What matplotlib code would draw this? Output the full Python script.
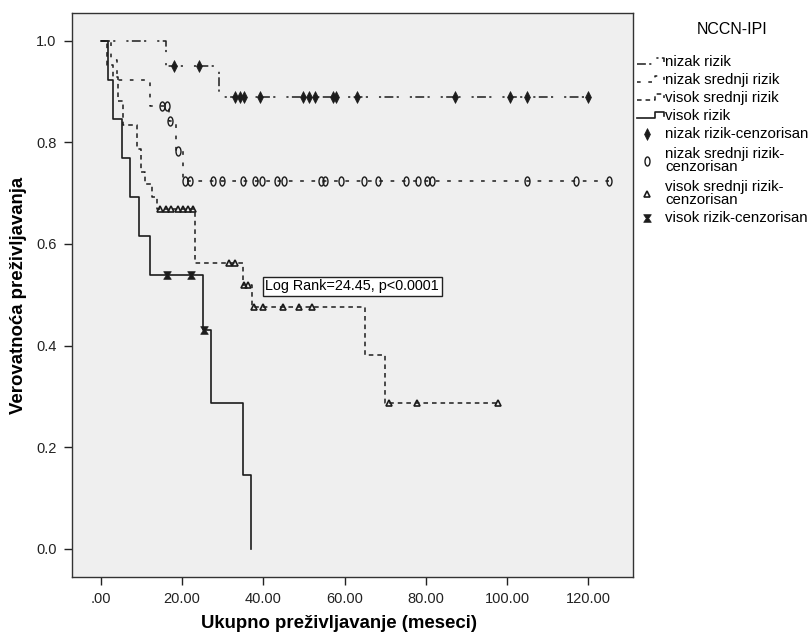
import numpy as np
import matplotlib
matplotlib.use('Agg')
import matplotlib.pyplot as plt
from matplotlib.lines import Line2D
from matplotlib.path import Path
from matplotlib.transforms import Affine2D

plt.rcParams['font.family'] = ['Liberation Sans', 'DejaVu Sans']

# nizak rizik
t_nizak = [0, 16, 29]
s_nizak = [1.0, 0.95, 0.89]
end_nizak = 120
c_nizak = [18, 24.2, 33, 34.2, 35.3, 39.3, 49.8, 51.2, 52.6, 57.2, 58, 63, 87.2,
           100.7, 104.9, 119.8]

# nizak srednji rizik
t_nsr = [0, 2.5, 4, 12, 16.8, 18.5, 20.2]
s_nsr = [1.0, 0.962, 0.923, 0.872, 0.843, 0.784, 0.724]
end_nsr = 125.2
c_nsr = [15, 16.4, 17.1, 19.1, 20.8, 22, 27.7, 29.8, 35.1, 38, 39.7, 43.4, 45,
         54.1, 55.3, 59.2, 64.9, 68.2, 75.1, 78, 80.3, 81.5, 105, 117, 125.2]

# visok srednji rizik
t_vsr = [0, 1.5, 3, 4.2, 5.5, 8.8, 10, 10.9, 12.7, 13.9, 23.2, 35, 37.2, 65, 70]
s_vsr = [1.0, 0.952, 0.929, 0.881, 0.835, 0.787, 0.741, 0.718, 0.692, 0.669,
         0.563, 0.52, 0.476, 0.381, 0.286]
end_vsr = 97.8
c_vsr = [14.6, 16, 17.3, 19, 20.2, 21.5, 22.7, 31.5, 33, 35.3, 36.3, 37.6, 39.9,
         44.8, 48.9, 52, 70.9, 77.9, 97.8]

# visok rizik
t_vr = [0, 1.8, 3, 5.1, 7.2, 9.3, 12.2, 25.1, 27, 35, 37]
s_vr = [1.0, 0.923, 0.846, 0.769, 0.692, 0.615, 0.538, 0.431, 0.287, 0.144, 0.0]
end_vr = 37
c_vr = [16.2, 22.1, 25.4]

x_ticks = [0, 20, 40, 60, 80, 100, 120]
x_ticklabels = ['.00', '20.00', '40.00', '60.00', '80.00', '100.00', '120.00']
y_ticks = [0.0, 0.2, 0.4, 0.6, 0.8, 1.0]

line_labels = ['nizak rizik', 'nizak srednji rizik', 'visok srednji rizik', 'visok rizik']
cens_labels = ['nizak rizik-cenzorisan', 'nizak srednji rizik-\ncenzorisan',
               'visok srednji rizik-\ncenzorisan', 'visok rizik-cenzorisan']

# custom markers
ellipse = Path.unit_circle().transformed(Affine2D().scale(0.55, 1.0))
diamond = Path([(0, 1), (0.5, 0), (0, -1), (-0.5, 0), (0, 1)],
               [Path.MOVETO] + [Path.LINETO] * 3 + [Path.CLOSEPOLY])
hourglass = Path([(-1, 1), (1, 1), (0.3, 0), (1, -1), (-1, -1), (-0.3, 0), (-1, 1)],
                 [Path.MOVETO] + [Path.LINETO] * 5 + [Path.CLOSEPOLY])

col = '#1c1c1c'
styles = [
    dict(ls=(0, (5.8, 2.2, 1.4, 7.2, 1.4, 2.2)), lw=1.1),
    dict(ls=(0, (2.4, 5.0)), lw=1.1),
    dict(ls=(0, (3.0, 2.6)), lw=1.1),
    dict(ls='-', lw=1.2),
]
mk = [
    dict(marker=diamond, ms=8.5, mfc=col, mec=col, mew=0.5),
    dict(marker=ellipse, ms=6.5, mfc='none', mec=col, mew=1.0),
    dict(marker='^', ms=5, mfc='none', mec=col, mew=1.2),
    dict(marker=hourglass, ms=5.5, mfc=col, mec=col, mew=0.5),
]

fig = plt.figure(figsize=(8.12, 6.41), dpi=100)
ax = fig.add_axes([72 / 812, 1 - 577 / 641, 561 / 812, 564 / 641])
ax.set_facecolor('#efefef')

series = [(t_nizak, s_nizak, end_nizak, c_nizak),
          (t_nsr, s_nsr, end_nsr, c_nsr),
          (t_vsr, s_vsr, end_vsr, c_vsr),
          (t_vr, s_vr, end_vr, c_vr)]

for (t, s, end, c), st, m in zip(series, styles, mk):
    t = np.array(t, float)
    s = np.array(s, float)
    xs = np.append(t, end)
    ys = np.append(s, s[-1])
    ax.plot(xs, ys, drawstyle='steps-post', color=col, **st)
    c = np.array(c, float)
    cy = s[np.searchsorted(t, c, side='right') - 1]
    ax.plot(c, cy, ls='none', **m)

ax.set_xlim(-7.1, 131)
ax.set_ylim(-0.056, 1.055)
ax.set_xticks(x_ticks)
ax.set_xticklabels(x_ticklabels)
ax.set_yticks(y_ticks)
ax.set_yticklabels(['%.1f' % v for v in y_ticks])
ax.tick_params(direction='out', length=6, width=1, labelsize=10.5, colors='#222222', pad=5)
for sp in ax.spines.values():
    sp.set_color('#333333')
    sp.set_linewidth(1.0)

xl = ax.set_xlabel('Ukupno preživljavanje (meseci)', fontsize=13.4, fontweight='bold')
ax.xaxis.set_label_coords(0.476, -0.083)
xl.set_va('center')
yl = ax.set_ylabel('Verovatnoća preživljavanja', fontsize=13.4, fontweight='bold')
ax.yaxis.set_label_coords(-0.096, 0.5)
yl.set_va('center')

ax.text(40.5, 0.517, 'Log Rank=24.45, p<0.0001', fontsize=10.4, ha='left', va='center',
        bbox=dict(boxstyle='square,pad=0.18', fc='white', ec='#222222', lw=1))

# legend drawn by hand, in figure pixels
W, H = 812, 641
def fx(x):
    return x / W
def fy(y):
    return 1 - y / H

fig.text(fx(732), fy(30), 'NCCN-IPI', fontsize=11.5, ha='center', va='center')
row_y = [61.7, 80, 98.3, 116]
for yy, lab, st in zip(row_y, line_labels, styles):
    hx = [637, 655, 655, 664, 664]
    hy = [yy + 2, yy + 2, yy - 4, yy - 4, yy]
    fig.add_artist(Line2D([fx(v) for v in hx], [fy(v) for v in hy],
                          transform=fig.transFigure, color=col, lw=st['lw'], ls=st['ls']))
    fig.text(fx(665), fy(yy), lab, fontsize=10.8, ha='left', va='center')

cens_y = [134, 160.5, 193.5, 218.3]
for yy, lab, m in zip(cens_y, cens_labels, mk):
    fig.add_artist(Line2D([fx(647)], [fy(yy)], transform=fig.transFigure, ls='none', **m))
    fig.text(fx(665), fy(yy), lab, fontsize=10.8, ha='left', va='center', linespacing=0.95)

fig.savefig('out.png', dpi=100)
